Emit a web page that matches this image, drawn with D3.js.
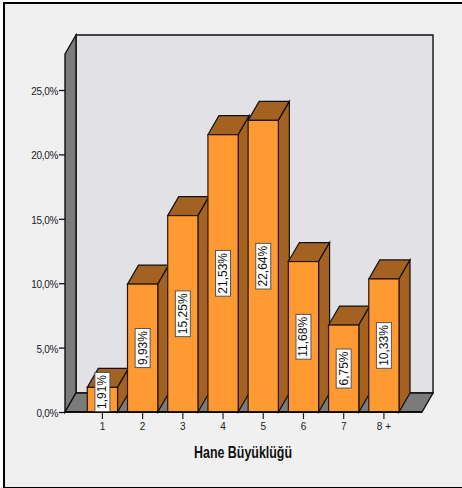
<!DOCTYPE html>
<html><head><meta charset="utf-8">
<script src="https://cdn.jsdelivr.net/npm/d3@7"></script>
<style>html,body{margin:0;padding:0;background:#fff}svg{display:block}text{font-family:"Liberation Sans",Arial,sans-serif}</style>
</head><body><svg id="c" width="462" height="488"></svg>
<script>
const categories=["1","2","3","4","5","6","7","8 +"];
const values=[1.91,9.93,15.25,21.53,22.64,11.68,6.75,10.33];
const labels=["1,91%","9,93%","15,25%","21,53%","22,64%","11,68%","6,75%","10,33%"];
const yTicks=[0,5,10,15,20,25];
const yTickLabels=["0,0%","5,0%","10,0%","15,0%","20,0%","25,0%"];
const xAxisTitle="Hane Büyüklüğü";

const svg=d3.select("#c");
const dx=11,dy=-19;
const plotLeft=65,plotRight=422,floorY=412,plotTop=54;
const y=d3.scaleLinear().domain([0,25]).range([floorY,90]);
const x=d3.scaleBand().domain(categories).range([82.3,404]).paddingInner(0.248).paddingOuter(0.124);
const ink="#111";
const side="#a36122",front="#ff9a33",grey="#7b7b7b";
const poly=(pts,fill,sw=1.4,stroke=ink)=>svg.append("polygon").attr("points",pts.map(p=>p.join(",")).join(" ")).attr("fill",fill).attr("stroke",stroke).attr("stroke-width",sw).attr("stroke-linejoin","miter");

svg.append("rect").attr("x",3).attr("y",2).attr("width",459).attr("height",486).attr("fill","#f0f0f0");
svg.append("line").attr("x1",4).attr("x2",4).attr("y1",2).attr("y2",488).attr("stroke","#000").attr("stroke-width",2);
svg.append("line").attr("x1",3).attr("x2",462).attr("y1",3).attr("y2",3).attr("stroke","#000").attr("stroke-width",2);
svg.append("line").attr("x1",3).attr("x2",462).attr("y1",487.5).attr("y2",487.5).attr("stroke","#000").attr("stroke-width",1);

poly([[plotLeft+dx,plotTop+dy],[plotRight+dx,plotTop+dy],[plotRight+dx,floorY+dy],[plotLeft+dx,floorY+dy]],"#e1e1e6");
poly([[plotLeft,plotTop],[plotLeft+dx,plotTop+dy],[plotLeft+dx,floorY+dy],[plotLeft,floorY]],grey);
poly([[plotLeft,floorY],[plotLeft+dx,floorY+dy],[plotRight+dx,floorY+dy],[plotRight,floorY]],grey);

categories.forEach((c,i)=>{
  const x0=x(c),x1=x0+x.bandwidth(),yt=y(values[i]),yb=y(0);
  poly([[x0,yt],[x0+dx,yt+dy],[x1+dx,yt+dy],[x1,yt]],side,1.2);
  poly([[x1,yt],[x1+dx,yt+dy],[x1+dx,yb+dy],[x1,yb]],side,1.2);
  svg.append("rect").attr("x",x0).attr("y",yt).attr("width",x.bandwidth()).attr("height",yb-yt).attr("fill",front).attr("stroke","#2a1606").attr("stroke-width",1.2);
});

svg.append("line").attr("x1",plotLeft).attr("x2",plotRight).attr("y1",floorY).attr("y2",floorY).attr("stroke","#000").attr("stroke-width",1.6);

categories.forEach((c,i)=>{
  const cx=x(c)+x.bandwidth()/2;
  const g=svg.append("g");
  const t=g.append("text").text(labels[i]).attr("font-size",12).attr("fill","#111").attr("text-anchor","middle").attr("dominant-baseline","central");
  const w=t.node().getComputedTextLength()+5,h=15;
  const cy=Math.min((y(values[i])+y(0))/2,y(0)-w/2-0.5);
  g.attr("transform",`translate(${cx},${cy}) rotate(-90)`);
  g.insert("rect","text").attr("x",-w/2).attr("y",-h/2).attr("width",w).attr("height",h).attr("fill","#fff").attr("stroke","#555").attr("stroke-width",1);
});

const yAxis=d3.axisLeft(y).tickValues(yTicks).tickFormat((d,i)=>yTickLabels[i]).tickSize(6).tickPadding(1);
const gy=svg.append("g").attr("transform",`translate(${plotLeft},0)`).call(yAxis);
gy.select(".domain").remove();
gy.selectAll("line").attr("stroke","#111").attr("stroke-width",1.3);
gy.selectAll("text").attr("font-size",10).attr("fill","#222").attr("letter-spacing",-0.3).attr("dy","0.45em");

const xAxis=d3.axisBottom(x).tickSize(7).tickPadding(4);
const gx=svg.append("g").attr("transform",`translate(0,${floorY})`).call(xAxis);
gx.select(".domain").remove();
gx.selectAll("line").attr("stroke","#222").attr("stroke-width",1.2);
gx.selectAll("text").attr("font-size",10).attr("fill","#222");

svg.append("text").attr("x",243).attr("y",458).attr("text-anchor","middle").attr("font-size",16).attr("font-weight","bold").attr("fill","#111").attr("textLength",98).attr("lengthAdjust","spacingAndGlyphs").text(xAxisTitle);
</script></body></html>
